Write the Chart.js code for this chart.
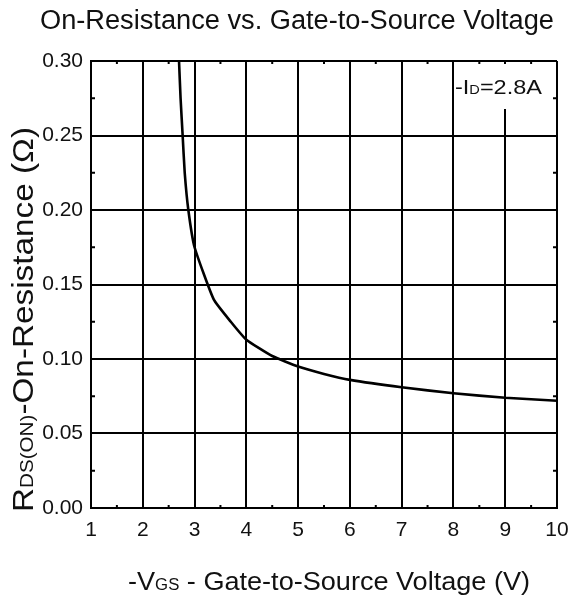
<!DOCTYPE html>
<html>
<head>
<meta charset="utf-8">
<script src="https://cdn.jsdelivr.net/npm/chart.js@4/dist/chart.umd.min.js"></script>
<style>
  html, body { margin: 0; padding: 0; background: #fff; }
  #wrap { width: 569px; height: 601px; position: relative; }
</style>
</head>
<body>
<div id="wrap"><canvas id="c" width="569" height="601"></canvas></div>
<script>
// ---- data ----
const vgs = [2.70, 2.73, 2.77, 2.81, 2.88, 3.00, 3.37, 3.70, 4.00, 4.50, 5.00, 5.50, 6.00, 7.00, 8.00, 9.00, 10.00];
const rds = [0.300, 0.275, 0.250, 0.225, 0.200, 0.175, 0.140, 0.125, 0.113, 0.102, 0.095, 0.090, 0.086, 0.081, 0.077, 0.074, 0.072];
const xTicks = [1, 2, 3, 4, 5, 6, 7, 8, 9, 10];
const yTicks = [0.00, 0.05, 0.10, 0.15, 0.20, 0.25, 0.30];
const xMinor = [1.5, 2.5, 3.5, 4.5, 5.5, 6.5, 7.5, 8.5, 9.5];
const yMinor = [0.025, 0.075, 0.125, 0.175, 0.225, 0.275];
const titleText = "On-Resistance vs. Gate-to-Source Voltage";
const xTitleParts = [["-V", 1], ["GS", 0.62], [" - Gate-to-Source Voltage (V)", 1]];
const yTitleParts = [["R", 1], ["DS(ON)", 0.62], ["-On-Resistance (\u03A9)", 1]];
const noteParts = [["-I", 1], ["D", 0.62], ["=2.8A", 1]];

const FONT = "'Liberation Sans', Arial, sans-serif";
const INK = "#111";

function richWidth(ctx, parts, size) {
  let w = 0;
  for (const [t, s] of parts) { ctx.font = (size * s) + "px " + FONT; w += ctx.measureText(t).width; }
  return w;
}
// draws text centred on cx, optionally stretched horizontally to a target width
function drawRich(ctx, parts, size, cx, baseline, targetW) {
  const w = richWidth(ctx, parts, size);
  const sx = targetW ? targetW / w : 1;
  ctx.save();
  ctx.translate(cx, baseline);
  ctx.scale(sx, 1);
  let x = -w / 2;
  ctx.textAlign = "left";
  ctx.textBaseline = "alphabetic";
  for (const [t, s] of parts) {
    ctx.font = (size * s) + "px " + FONT;
    ctx.fillText(t, x, 0);
    x += ctx.measureText(t).width;
  }
  ctx.restore();
}

const decor = {
  id: "decor",
  afterDraw(chart) {
    const ctx = chart.ctx;
    const xs = chart.scales.x, ys = chart.scales.y;
    const a = chart.chartArea;
    ctx.save();
    // minor ticks
    ctx.strokeStyle = "#000";
    ctx.lineWidth = 2;
    ctx.beginPath();
    for (const v of xMinor) {
      const px = xs.getPixelForValue(v);
      ctx.moveTo(px, a.bottom); ctx.lineTo(px, a.bottom - 3);
      ctx.moveTo(px, a.top); ctx.lineTo(px, a.top + 3);
    }
    for (const v of yMinor) {
      const py = ys.getPixelForValue(v);
      ctx.moveTo(a.left, py); ctx.lineTo(a.left + 4, py);
      ctx.moveTo(a.right, py); ctx.lineTo(a.right - 4, py);
    }
    ctx.stroke();

    // condition note box
    const bx0 = xs.getPixelForValue(8) + 2, bx1 = a.right - 5;
    ctx.fillStyle = "#fff";
    ctx.fillRect(bx0, a.top + 3, bx1 - bx0, 45);
    ctx.fillStyle = INK;
    drawRich(ctx, noteParts, 20, 498.5, 94, 87);

    // title
    ctx.fillStyle = INK;
    drawRich(ctx, [[titleText, 1]], 27, 297, 29, 514);
    // x title
    drawRich(ctx, xTitleParts, 26, 329, 590, 402);
    // y title
    ctx.translate(33, 319.5);
    ctx.rotate(-Math.PI / 2);
    drawRich(ctx, yTitleParts, 29, 0, 0, 385);
    ctx.restore();
  }
};

new Chart(document.getElementById("c"), {
  type: "scatter",
  data: {
    datasets: [{
      data: vgs.map((v, i) => ({ x: v, y: rds[i] })),
      showLine: true,
      borderColor: "#000",
      borderWidth: 2.6,
      pointRadius: 0,
      tension: 0.15,
      fill: false
    }]
  },
  options: {
    responsive: false,
    animation: false,
    devicePixelRatio: 1,
    layout: { padding: { top: 61, right: 12, left: 0, bottom: 0 } },
    plugins: { legend: { display: false }, tooltip: { enabled: false }, title: { display: false } },
    scales: {
      x: {
        type: "linear",
        min: 1, max: 10,
        afterFit(s) { s.height = 93; s.paddingRight = 0; s.paddingLeft = 0; },
        afterBuildTicks(s) { s.ticks = xTicks.map(v => ({ value: v })); },
        grid: { color: "#000", lineWidth: 2, drawTicks: false },
        border: { display: true, color: "#000", width: 2 },
        ticks: { color: INK, font: { family: FONT, size: 21 }, padding: 10, maxRotation: 0,
                  callback: v => String(v) }
      },
      y: {
        type: "linear",
        min: 0, max: 0.3,
        afterFit(s) { s.width = 91; s.paddingTop = 0; s.paddingBottom = 0; },
        afterBuildTicks(s) { s.ticks = yTicks.map(v => ({ value: v })); },
        grid: { color: "#000", lineWidth: 2, drawTicks: false },
        border: { display: true, color: "#000", width: 2 },
        ticks: { color: INK, font: { family: FONT, size: 21 }, padding: 8,
                  callback: v => Number(v).toFixed(2) }
      }
    }
  },
  plugins: [decor]
});
</script>
</body>
</html>
